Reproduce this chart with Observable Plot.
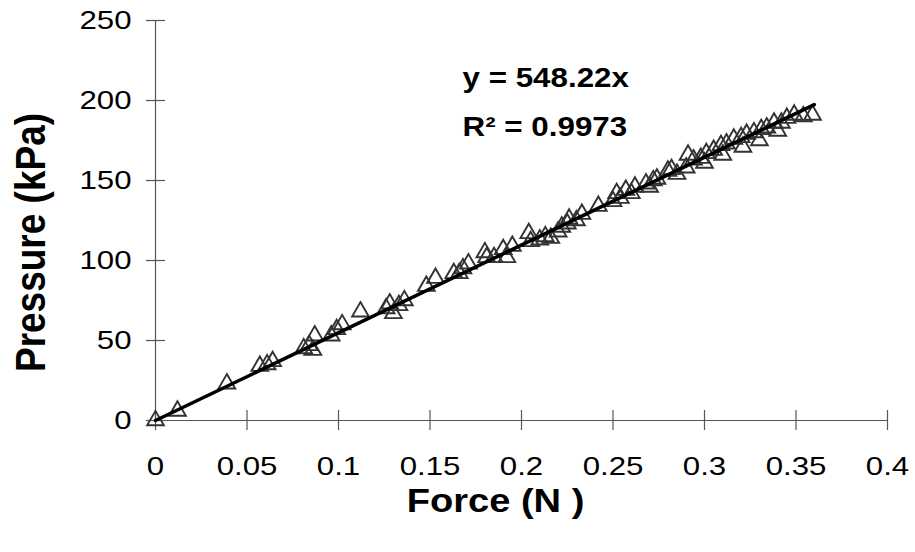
<!DOCTYPE html>
<html>
<head>
<meta charset="utf-8">
<script src="https://cdn.jsdelivr.net/npm/d3@7"></script>
<script src="https://cdn.jsdelivr.net/npm/@observablehq/plot@0.6"></script>
<style>
  html, body { margin: 0; padding: 0; background: #fff; }
  #chart { width: 915px; height: 552px; }
</style>
</head>
<body>
<div id="chart"></div>
<script>
// ---- data ----
const forceN = [0, 0.012, 0.039, 0.057, 0.061, 0.064, 0.081, 0.084, 0.086, 0.087, 0.096, 0.099,
  0.102, 0.112, 0.126, 0.128, 0.130, 0.133, 0.136, 0.148, 0.153, 0.163, 0.166, 0.168, 0.171,
  0.180, 0.181, 0.185, 0.190, 0.192, 0.195, 0.204, 0.205, 0.210, 0.213, 0.216, 0.220, 0.222,
  0.225, 0.226, 0.230, 0.233, 0.242, 0.250, 0.252, 0.254, 0.257, 0.260, 0.262, 0.268, 0.270,
  0.272, 0.274, 0.280, 0.282, 0.285, 0.290, 0.291, 0.294, 0.298, 0.300, 0.301, 0.305, 0.309,
  0.310, 0.312, 0.316, 0.320, 0.321, 0.323, 0.327, 0.330, 0.331, 0.334, 0.338, 0.340, 0.342,
  0.345, 0.349, 0.354, 0.359];
const pressureKPa = [0, 6, 23, 34, 35, 37, 45, 47, 44, 53, 53, 57,
  60, 68, 70, 73, 67, 72, 75, 84, 89, 92, 92, 95, 98,
  105, 102, 102, 107, 102, 109, 117, 112, 113, 115, 114, 118, 121,
  123, 126, 125, 129, 134, 137, 142, 139, 144, 142, 146, 148, 146,
  150, 151, 156, 157, 154, 158, 166, 163, 164, 161, 167, 169, 172,
  166, 173, 176, 177, 171, 179, 180, 175, 182, 183, 186, 181, 186,
  189, 191, 190, 191];
const trendX = [0, 0.36];
const trendY = [0, 197.4];
const xTicks = [0, 0.05, 0.1, 0.15, 0.2, 0.25, 0.3, 0.35, 0.4];
const yTicks = [0, 50, 100, 150, 200, 250];
const xTitle = "Force (N )";
const yTitle = "Pressure (kPa)";
const eqLine = "y = 548.22x";
const r2Line = "R² = 0.9973";

const points = forceN.map((f, i) => ({force: f, pressure: pressureKPa[i]}));
const trend = trendX.map((f, i) => ({force: f, pressure: trendY[i]}));

const font = "'Liberation Sans', Arial, Helvetica, sans-serif";

const chart = Plot.plot({
  width: 915,
  height: 552,
  marginTop: 20,
  marginBottom: 132,
  marginLeft: 155,
  marginRight: 28,
  style: {fontFamily: font, color: "#000", background: "#fff", overflow: "visible"},
  x: {domain: [0, 0.4], axis: null},
  y: {domain: [0, 250], axis: null},
  marks: [
    // axis lines
    Plot.ruleX([0], {stroke: "#555", strokeWidth: 1.2}),
    Plot.ruleY([0], {stroke: "#555", strokeWidth: 1.2}),
    // crossing tick marks
    Plot.tickX(xTicks, {x: d => d, insetTop: 390, insetBottom: -10, stroke: "#555", strokeWidth: 1.2}),
    Plot.tickY(yTicks, {y: d => d, insetLeft: -9, insetRight: 722, stroke: "#555", strokeWidth: 1.2}),
    // tick labels
    Plot.axisX(xTicks, {tickSize: 0, tickPadding: 36, fontSize: 26, label: null, tickFormat: d => String(d), className: "xt"}),
    Plot.axisY(yTicks, {tickSize: 0, tickPadding: 24, fontSize: 26, label: null, tickFormat: d => String(d), className: "yt"}),
    // data
    Plot.dot(points, {x: "force", y: "pressure", symbol: "triangle", r: 6.2, stroke: "#333", strokeWidth: 1.9, fill: "none"}),
    Plot.line(trend, {x: "force", y: "pressure", stroke: "#000", strokeWidth: 3.5}),
    // equation
    Plot.text([eqLine], {frameAnchor: "top-left", textAnchor: "start", lineAnchor: "middle", dx: 307, dy: 58, fontSize: 28, fontWeight: "bold", className: "eq"}),
    Plot.text([r2Line], {frameAnchor: "top-left", textAnchor: "start", lineAnchor: "middle", dx: 307, dy: 107, fontSize: 28, fontWeight: "bold", className: "eq"}),
    // axis titles
    Plot.text([xTitle], {frameAnchor: "bottom", textAnchor: "middle", lineAnchor: "middle", dx: -26, dy: 81, fontSize: 34, fontWeight: "bold", className: "xtitle"}),
    Plot.text([yTitle], {frameAnchor: "left", textAnchor: "middle", lineAnchor: "middle", rotate: -90, dx: -124, dy: 22, fontSize: 37, fontWeight: "bold", className: "ytitle"})
  ]
});

// horizontal stretch of texts (the reference text is drawn wider than the font's natural width)
function stretch(selector, sx, rotated) {
  chart.querySelectorAll(selector + " text").forEach(t => {
    const tr = t.getAttribute("transform") || "";
    t.setAttribute("transform", tr + (rotated ? ` scale(1,${sx})` : ` scale(${sx},1)`));
  });
}
stretch(".xt", 1.2);
stretch(".yt", 1.2);
stretch(".eq", 1.12);
stretch(".xtitle", 1.12);
stretch(".ytitle", 1.15, true);

document.getElementById("chart").appendChild(chart);
</script>
</body>
</html>
